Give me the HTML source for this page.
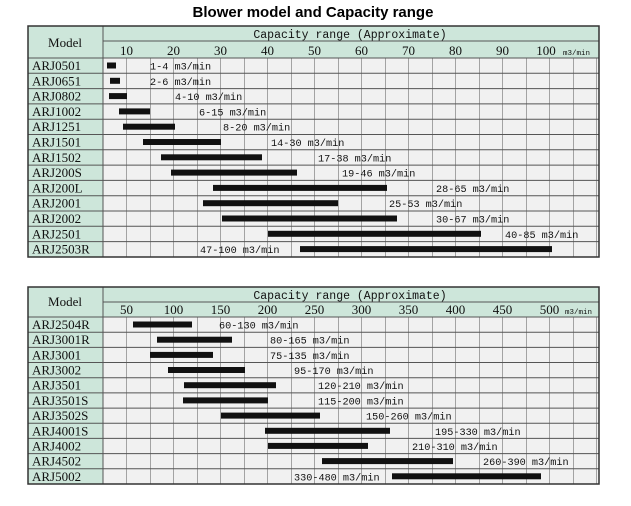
<!DOCTYPE html>
<html><head><meta charset="utf-8"><style>
html,body{margin:0;padding:0;background:#fff;width:631px;height:506px;overflow:hidden}
svg{display:block}
.t{font-family:"Liberation Sans",sans-serif;font-weight:bold;font-size:15px}
.m{font-family:"Liberation Mono",monospace;font-size:11.5px;fill:#111}
.h{font-family:"Liberation Mono",monospace;font-size:11.5px;fill:#111}
.k{font-family:"Liberation Serif",serif;font-size:13px;fill:#111}
.l{font-family:"Liberation Mono",monospace;font-size:10.2px;fill:#111}
.u{font-family:"Liberation Mono",monospace;font-size:7.5px;fill:#111}
</style></head><body>
<svg width="631" height="506" xmlns="http://www.w3.org/2000/svg">
<defs>
<pattern id="gt" x="103" y="0" width="23.5" height="506" patternUnits="userSpaceOnUse">
<line x1="0" y1="0" x2="0" y2="506" stroke="#555" stroke-width="1"/>
</pattern>
</defs>
<text class="t" x="313" y="17" text-anchor="middle">Blower model and Capacity range</text>

<!-- TOP TABLE -->
<rect x="28" y="26" width="571" height="231" fill="#f1f1f1"/>
<rect x="28" y="26" width="571" height="32" fill="#cde6da"/>
<rect x="28" y="58" width="75" height="199" fill="#cde6da"/>
<rect x="103" y="58" width="496" height="199" fill="url(#gt)"/>
<g stroke="#555" stroke-width="1">
<line x1="103" y1="41" x2="599" y2="41"/>
<line x1="28" y1="58" x2="599" y2="58"/>
<line x1="28" y1="73.3" x2="599" y2="73.3"/><line x1="28" y1="88.6" x2="599" y2="88.6"/>
<line x1="28" y1="103.9" x2="599" y2="103.9"/><line x1="28" y1="119.2" x2="599" y2="119.2"/>
<line x1="28" y1="134.5" x2="599" y2="134.5"/><line x1="28" y1="149.8" x2="599" y2="149.8"/>
<line x1="28" y1="165.1" x2="599" y2="165.1"/><line x1="28" y1="180.4" x2="599" y2="180.4"/>
<line x1="28" y1="195.7" x2="599" y2="195.7"/><line x1="28" y1="211" x2="599" y2="211"/>
<line x1="28" y1="226.3" x2="599" y2="226.3"/><line x1="28" y1="241.6" x2="599" y2="241.6"/>
<line x1="103" y1="26" x2="103" y2="257"/>
</g>
<rect x="28" y="26" width="571" height="231" fill="none" stroke="#333" stroke-width="1.5"/>
<text class="k" x="65" y="47" text-anchor="middle">Model</text>
<text class="h" x="350" y="38" text-anchor="middle">Capacity range (Approximate)</text>
<g class="k" text-anchor="middle">
<text x="126.5" y="55">10</text><text x="173.5" y="55">20</text><text x="220.5" y="55">30</text>
<text x="267.5" y="55">40</text><text x="314.5" y="55">50</text><text x="361.5" y="55">60</text>
<text x="408.5" y="55">70</text><text x="455.5" y="55">80</text><text x="502.5" y="55">90</text>
<text x="546" y="55">100</text></g>
<text class="u" x="563" y="55">m3/min</text>
<g class="k">
<text x="32" y="70">ARJ0501</text><text x="32" y="85.3">ARJ0651</text><text x="32" y="100.6">ARJ0802</text>
<text x="32" y="115.9">ARJ1002</text><text x="32" y="131.2">ARJ1251</text><text x="32" y="146.5">ARJ1501</text>
<text x="32" y="161.8">ARJ1502</text><text x="32" y="177.1">ARJ200S</text><text x="32" y="192.4">ARJ200L</text>
<text x="32" y="207.7">ARJ2001</text><text x="32" y="223">ARJ2002</text><text x="32" y="238.3">ARJ2501</text>
<text x="32" y="253.6">ARJ2503R</text></g>
<g fill="#111">
<rect x="107" y="62.5" width="9" height="6"/><rect x="110" y="77.8" width="10" height="6"/>
<rect x="109" y="93.1" width="18" height="6"/><rect x="119" y="108.4" width="31" height="6"/>
<rect x="123" y="123.7" width="52" height="6"/><rect x="143" y="139" width="78" height="6"/>
<rect x="161" y="154.3" width="101" height="6"/><rect x="171" y="169.6" width="126" height="6"/>
<rect x="213" y="184.9" width="174" height="6"/><rect x="203" y="200.2" width="135" height="6"/>
<rect x="222" y="215.5" width="175" height="6"/><rect x="268" y="230.8" width="213" height="6"/>
<rect x="300" y="246.1" width="252" height="6"/></g>
<g class="l">
<text x="150" y="69.5">1-4 m3/min</text><text x="150" y="84.8">2-6 m3/min</text>
<text x="175" y="100.1">4-10 m3/min</text><text x="199" y="115.4">6-15 m3/min</text>
<text x="223" y="130.7">8-20 m3/min</text><text x="271" y="146">14-30 m3/min</text>
<text x="318" y="161.3">17-38 m3/min</text><text x="342" y="176.6">19-46 m3/min</text>
<text x="436" y="191.9">28-65 m3/min</text><text x="389" y="207.2">25-53 m3/min</text>
<text x="436" y="222.5">30-67 m3/min</text><text x="505" y="237.8">40-85 m3/min</text>
<text x="200" y="253.1">47-100 m3/min</text></g>

<!-- BOTTOM TABLE -->
<rect x="28" y="287" width="571" height="197" fill="#f1f1f1"/>
<rect x="28" y="287" width="571" height="30" fill="#cde6da"/>
<rect x="28" y="317" width="75" height="167" fill="#cde6da"/>
<rect x="103" y="317" width="496" height="167" fill="url(#gt)"/>
<g stroke="#555" stroke-width="1">
<line x1="103" y1="302" x2="599" y2="302"/>
<line x1="28" y1="317" x2="599" y2="317"/>
<line x1="28" y1="332.2" x2="599" y2="332.2"/><line x1="28" y1="347.4" x2="599" y2="347.4"/>
<line x1="28" y1="362.5" x2="599" y2="362.5"/><line x1="28" y1="377.7" x2="599" y2="377.7"/>
<line x1="28" y1="392.9" x2="599" y2="392.9"/><line x1="28" y1="408.1" x2="599" y2="408.1"/>
<line x1="28" y1="423.3" x2="599" y2="423.3"/><line x1="28" y1="438.4" x2="599" y2="438.4"/>
<line x1="28" y1="453.6" x2="599" y2="453.6"/><line x1="28" y1="468.8" x2="599" y2="468.8"/>
<line x1="103" y1="287" x2="103" y2="484"/>
</g>
<rect x="28" y="287" width="571" height="197" fill="none" stroke="#333" stroke-width="1.5"/>
<text class="k" x="65" y="306" text-anchor="middle">Model</text>
<text class="h" x="350" y="299" text-anchor="middle">Capacity range (Approximate)</text>
<g class="k" text-anchor="middle">
<text x="126.5" y="314">50</text><text x="173.5" y="314">100</text><text x="220.5" y="314">150</text>
<text x="267.5" y="314">200</text><text x="314.5" y="314">250</text><text x="361.5" y="314">300</text>
<text x="408.5" y="314">350</text><text x="455.5" y="314">400</text><text x="502.5" y="314">450</text>
<text x="549.5" y="314">500</text></g>
<text class="u" x="565" y="314">m3/min</text>
<g class="k">
<text x="32" y="329">ARJ2504R</text><text x="32" y="344.2">ARJ3001R</text><text x="32" y="359.4">ARJ3001</text>
<text x="32" y="374.5">ARJ3002</text><text x="32" y="389.7">ARJ3501</text><text x="32" y="404.9">ARJ3501S</text>
<text x="32" y="420.1">ARJ3502S</text><text x="32" y="435.3">ARJ4001S</text><text x="32" y="450.4">ARJ4002</text>
<text x="32" y="465.6">ARJ4502</text><text x="32" y="480.8">ARJ5002</text></g>
<g fill="#111">
<rect x="133" y="321.5" width="59" height="6"/><rect x="157" y="336.7" width="75" height="6"/>
<rect x="150" y="351.9" width="63" height="6"/><rect x="168" y="367" width="77" height="6"/>
<rect x="184" y="382.2" width="92" height="6"/><rect x="183" y="397.4" width="85" height="6"/>
<rect x="221" y="412.6" width="99" height="6"/><rect x="265" y="427.8" width="125" height="6"/>
<rect x="268" y="442.9" width="100" height="6"/><rect x="322" y="458.1" width="131" height="6"/>
<rect x="392" y="473.3" width="149" height="6"/></g>
<g class="l">
<text x="219" y="328.5">60-130 m3/min</text><text x="270" y="343.7">80-165 m3/min</text>
<text x="270" y="358.9">75-135 m3/min</text><text x="294" y="374">95-170 m3/min</text>
<text x="318" y="389.2">120-210 m3/min</text><text x="318" y="404.4">115-200 m3/min</text>
<text x="366" y="419.6">150-260 m3/min</text><text x="435" y="434.8">195-330 m3/min</text>
<text x="412" y="449.9">210-310 m3/min</text><text x="483" y="465.1">260-390 m3/min</text>
<text x="294" y="480.3">330-480 m3/min</text></g>
</svg>
</body></html>
